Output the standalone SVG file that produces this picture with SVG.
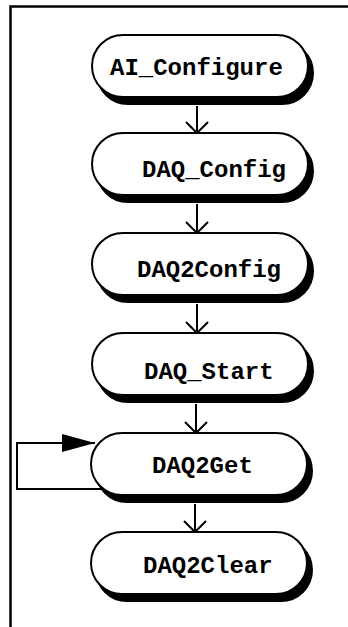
<svg xmlns="http://www.w3.org/2000/svg" width="348" height="627" viewBox="0 0 348 627">
<style>
.shadow{fill:#000;stroke:#000;stroke-width:2}
.box{fill:#fff;stroke:#000;stroke-width:2}
.lbl{font-family:"Liberation Mono","Courier New",monospace;font-weight:bold;font-size:24px;fill:#000}
.ln{fill:none;stroke:#000;stroke-width:2}
</style>
<defs>
<marker id="tri" markerWidth="34" markerHeight="20" refX="33" refY="10" orient="auto" markerUnits="userSpaceOnUse">
<path d="M0,1 L33,10 L0,19 Z" fill="#000"/>
</marker>
</defs>
<rect width="348" height="627" fill="#fff"/>
<path d="M10.5 627 V6.5 H348" fill="none" stroke="#000" stroke-width="2.5"/>
<g id="connectors">
<path class="ln" d="M197 106 V133 M186 122 L197 133 L208 122"/>
<path class="ln" d="M197 204 V233 M186 222 L197 233 L208 222"/>
<path class="ln" d="M197 304 V333 M186 322 L197 333 L208 322"/>
<path class="ln" d="M196 404 V433 M185 422 L196 433 L207 422"/>
<path class="ln" d="M195 504 V532 M184 521 L195 532 L206 521"/>
<path class="ln" d="M104 489 H17 V443 H95" marker-end="url(#tri)"/>
</g>
<g id="n1">
<rect class="shadow" x="97" y="42" width="216" height="62" rx="31"/>
<rect class="box" x="92" y="35" width="216" height="62" rx="31"/>
<text class="lbl" x="110" y="75">AI_Configure</text>
</g>
<g id="n2">
<rect class="shadow" x="97" y="140" width="216" height="62" rx="31"/>
<rect class="box" x="92" y="133" width="216" height="62" rx="31"/>
<text class="lbl" x="142" y="177">DAQ_Config</text>
</g>
<g id="n3">
<rect class="shadow" x="97" y="240" width="216" height="62" rx="31"/>
<rect class="box" x="92" y="233" width="216" height="62" rx="31"/>
<text class="lbl" x="137" y="277">DAQ2Config</text>
</g>
<g id="n4">
<rect class="shadow" x="97" y="340" width="216" height="62" rx="31"/>
<rect class="box" x="92" y="333" width="216" height="62" rx="31"/>
<text class="lbl" x="144" y="379">DAQ_Start</text>
</g>
<g id="n5">
<rect class="shadow" x="96" y="440" width="216" height="62" rx="31"/>
<rect class="box" x="91" y="433" width="216" height="62" rx="31"/>
<text class="lbl" x="152" y="473">DAQ2Get</text>
</g>
<g id="n6">
<rect class="shadow" x="96" y="539" width="216" height="62" rx="31"/>
<rect class="box" x="91" y="532" width="216" height="62" rx="31"/>
<text class="lbl" x="143" y="573">DAQ2Clear</text>
</g>
</svg>
